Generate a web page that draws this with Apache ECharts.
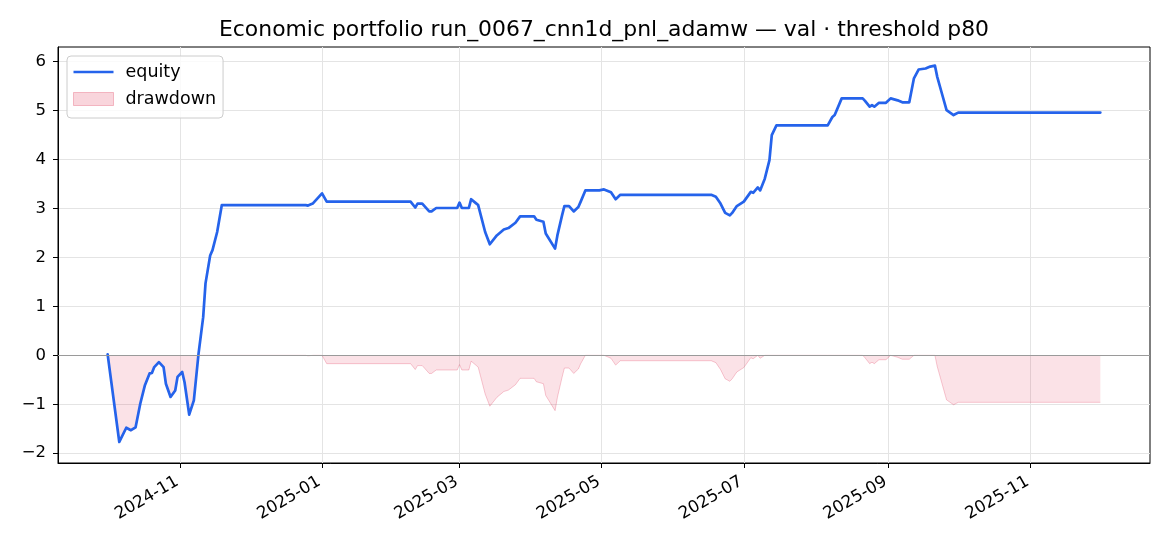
<!DOCTYPE html>
<html>
<head>
<meta charset="utf-8">
<script src="https://cdn.jsdelivr.net/npm/echarts@6/dist/echarts.min.js"></script>
<style>
  html, body { margin: 0; padding: 0; background: #fff; }
  #chart { width: 1170px; height: 546px; }
</style>
</head>
<body>
<div id="chart"></div>
<script>
// Equity curve (daily points where the shape bends)
const dates = [
  '2024-10-01', '2024-10-06', '2024-10-09', '2024-10-11', '2024-10-13', '2024-10-15',
  '2024-10-17', '2024-10-19', '2024-10-20', '2024-10-21', '2024-10-23', '2024-10-25',
  '2024-10-26', '2024-10-28', '2024-10-30', '2024-10-31', '2024-11-02', '2024-11-03',
  '2024-11-05', '2024-11-07', '2024-11-09', '2024-11-11', '2024-11-12', '2024-11-14',
  '2024-11-15', '2024-11-17', '2024-11-19', '2024-12-25', '2024-12-26', '2024-12-28',
  '2025-01-01', '2025-01-03', '2025-02-08', '2025-02-10', '2025-02-11', '2025-02-13',
  '2025-02-16', '2025-02-17', '2025-02-19', '2025-02-28', '2025-03-01', '2025-03-02',
  '2025-03-05', '2025-03-06', '2025-03-08', '2025-03-09', '2025-03-12', '2025-03-14',
  '2025-03-17', '2025-03-20', '2025-03-22', '2025-03-25', '2025-03-27', '2025-04-02',
  '2025-04-03', '2025-04-06', '2025-04-07', '2025-04-11', '2025-04-12', '2025-04-14',
  '2025-04-15', '2025-04-17', '2025-04-19', '2025-04-21', '2025-04-22', '2025-04-24',
  '2025-04-30', '2025-05-02', '2025-05-05', '2025-05-07', '2025-05-09', '2025-06-17',
  '2025-06-19', '2025-06-21', '2025-06-23', '2025-06-25', '2025-06-26', '2025-06-28',
  '2025-07-01', '2025-07-04', '2025-07-05', '2025-07-07', '2025-07-08', '2025-07-10',
  '2025-07-12', '2025-07-13', '2025-07-15', '2025-08-06', '2025-08-08', '2025-08-09',
  '2025-08-12', '2025-08-21', '2025-08-22', '2025-08-24', '2025-08-25', '2025-08-26',
  '2025-08-28', '2025-08-31', '2025-09-02', '2025-09-05', '2025-09-07', '2025-09-10',
  '2025-09-12', '2025-09-14', '2025-09-17', '2025-09-19', '2025-09-21', '2025-09-22',
  '2025-09-24', '2025-09-26', '2025-09-29', '2025-10-01', '2025-12-01'
];
const equity = [
  0.02, -1.77, -1.48, -1.53, -1.47, -0.99,
  -0.61, -0.37, -0.36, -0.24, -0.14, -0.24,
  -0.58, -0.85, -0.72, -0.44, -0.34, -0.55,
  -1.21, -0.92, 0.03, 0.78, 1.47, 2.04,
  2.15, 2.52, 3.07, 3.07, 3.06, 3.10,
  3.31, 3.14, 3.14, 3.02, 3.10, 3.10,
  2.94, 2.94, 3.01, 3.01, 3.12, 3.01,
  3.01, 3.19, 3.11, 3.07, 2.52, 2.27,
  2.45, 2.57, 2.60, 2.71, 2.84, 2.84,
  2.77, 2.73, 2.49, 2.18, 2.45, 2.86,
  3.05, 3.05, 2.94, 3.03, 3.14, 3.37,
  3.37, 3.39, 3.33, 3.19, 3.28, 3.28,
  3.24, 3.10, 2.91, 2.86, 2.91, 3.05,
  3.14, 3.34, 3.32, 3.43, 3.37, 3.61,
  3.99, 4.50, 4.70, 4.70, 4.87, 4.91,
  5.25, 5.25, 5.20, 5.08, 5.11, 5.08,
  5.16, 5.16, 5.25, 5.21, 5.17, 5.17,
  5.66, 5.84, 5.86, 5.90, 5.92, 5.69,
  5.35, 5.01, 4.91, 4.96, 4.96
];
const tickLabels = ['2024-11', '2025-01', '2025-03', '2025-05', '2025-07', '2025-09', '2025-11'];
const yTicks = [-2, -1, 0, 1, 2, 3, 4, 5, 6];

const FONT = 'DejaVu Sans';
const BLUE = '#2563eb';
const toTs = s => new Date(s + 'T00:00:00').getTime();

// drawdown = equity below its running peak
let peak = -Infinity;
const drawdown = equity.map(v => { peak = Math.max(peak, v); return +(v - peak).toFixed(3); });

// matplotlib-style 5% margins around the data span
const xs = dates.map(toTs);
const t0 = xs[0], t1 = xs[xs.length - 1];
const padX = (t1 - t0) * 0.05;
const tickTs = tickLabels.map(m => toTs(m + '-01'));
const pad2 = n => String(n).padStart(2, '0');

const chart = echarts.init(document.getElementById('chart'), null, { renderer: 'canvas' });
chart.setOption({
  animation: false,
  textStyle: { fontFamily: FONT },
  title: {
    text: 'Economic portfolio run_0067_cnn1d_pnl_adamw — val · threshold p80',
    left: 604, top: 19, textAlign: 'center', padding: 0,
    textStyle: { fontFamily: FONT, fontSize: 21.9, fontWeight: 'normal', color: '#000' }
  },
  legend: {
    orient: 'vertical', left: 67, top: 56,
    padding: [7, 7, 10, 6], itemGap: 9, itemWidth: 40, itemHeight: 13,
    borderColor: '#cccccc', borderWidth: 1, borderRadius: 4, backgroundColor: 'rgba(255,255,255,0.8)',
    textStyle: { fontFamily: FONT, fontSize: 17.5, color: '#000', padding: [0, 0, 0, 7] },
    data: [
      { name: 'equity', icon: 'path://M0,0H40V2.6H0Z', itemStyle: { color: BLUE, borderWidth: 0 } },
      { name: 'drawdown', icon: 'rect',
        itemStyle: { color: 'rgba(220,20,60,0.18)', borderColor: 'rgba(220,20,60,0.25)', borderWidth: 1 } }
    ]
  },
  grid: {
    left: 58, right: 20, top: 47, bottom: 83, show: true,
    borderColor: '#000', borderWidth: 1, containLabel: false
  },
  xAxis: {
    type: 'value', min: t0 - padX, max: t1 + padX,
    axisLine: { onZero: false, lineStyle: { color: '#000', width: 1 } },
    axisTick: { show: true, length: 5, customValues: tickTs, lineStyle: { color: '#000' } },
    axisLabel: {
      customValues: tickTs, rotate: 30, margin: 16, padding: [0, 3, 0, 0],
      fontSize: 16.8, color: '#000', fontFamily: FONT,
      formatter: v => { const d = new Date(v); return d.getFullYear() + '-' + pad2(d.getMonth() + 1); }
    },
    splitLine: { show: true, lineStyle: { color: '#e4e4e4', width: 1 } }
  },
  yAxis: {
    type: 'value', min: -2.2, max: 6.3,
    axisLine: { show: true, lineStyle: { color: '#000', width: 1 } },
    axisTick: { show: true, length: 5, customValues: yTicks, lineStyle: { color: '#000' } },
    axisLabel: {
      customValues: yTicks, margin: 12, fontSize: 16.5, color: '#000', fontFamily: FONT,
      formatter: v => String(v).replace('-', '\u2212')
    },
    splitLine: { show: true, lineStyle: { color: '#e4e4e4', width: 1 } }
  },
  series: [
    {
      name: 'equity', type: 'line', symbol: 'none', z: 3,
      data: xs.map((t, i) => [t, equity[i]]),
      lineStyle: { color: BLUE, width: 2.7, join: 'round', cap: 'round' },
      itemStyle: { color: BLUE }
    },
    {
      name: 'drawdown', type: 'line', symbol: 'none', z: 2,
      data: xs.map((t, i) => [t, drawdown[i]]),
      lineStyle: { color: 'rgba(220,20,60,0.22)', width: 1 },
      itemStyle: { color: 'rgba(220,20,60,0.18)' },
      areaStyle: { color: 'rgba(220,20,60,0.18)', origin: 0 },
      markLine: {
        silent: true, symbol: 'none', label: { show: false },
        lineStyle: { color: '#9a9a9a', width: 1, type: 'solid' },
        data: [{ yAxis: 0 }]
      }
    }
  ]
});
</script>
</body>
</html>
